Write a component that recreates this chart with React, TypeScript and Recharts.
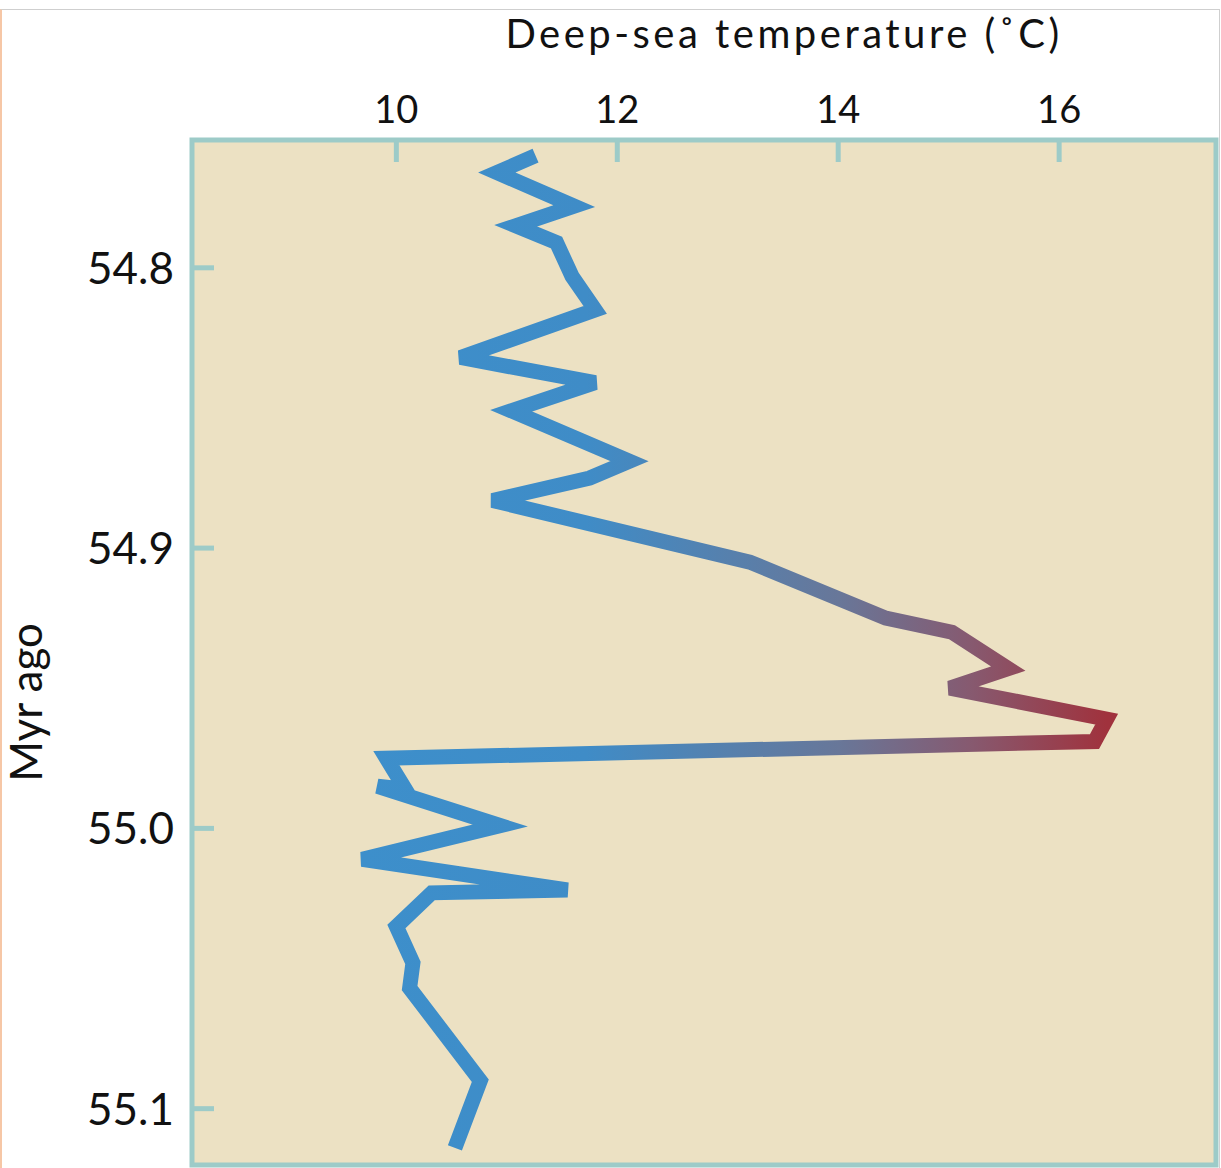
import { LineChart, Line, XAxis, YAxis, ReferenceArea, Label } from "recharts";

// Deep-sea temperature record across the PETM
const ageMyr = [
  54.760, 54.766, 54.778, 54.785, 54.791, 54.803, 54.815, 54.832, 54.841, 54.851,
  54.869, 54.875, 54.883, 54.905, 54.925, 54.930, 54.943, 54.950, 54.961, 54.969,
  54.975, 54.986, 54.985, 54.999, 55.011, 55.022, 55.023, 55.035, 55.048, 55.057,
  55.090, 55.114,
];
const tempC = [
  11.26, 10.91, 11.61, 11.08, 11.45, 11.59, 11.8, 10.58, 11.8, 11.04,
  12.11, 11.75, 10.87, 13.2, 14.43, 15.03, 15.54, 15.01, 16.43, 16.32,
  9.91, 10.08, 9.83, 10.94, 9.69, 11.55, 10.32, 10.0, 10.15, 10.12,
  10.76, 10.53,
];
const tempTicks = [10, 12, 14, 16];
const ageTicks = [54.8, 54.9, 55.0, 55.1];
const tempDomain = [8.15, 17.42];
const ageDomain = [54.7544, 55.1201];

const data = ageMyr.map((age, i) => ({ age, temp: tempC[i] }));

const FRAME = "#9dcbc8";
const PAPER = "#ece1c3";
const FONT = "Lato, 'Noto Sans', sans-serif";

function TempTick({ x, y, payload }: any) {
  return (
    <g>
      <line x1={x} y1={y} x2={x} y2={y + 22} stroke={FRAME} strokeWidth={5} />
      <text x={x} y={y - 17} textAnchor="middle" fontSize={38} fontFamily={FONT} fill="#111">
        {payload.value}
      </text>
    </g>
  );
}

function AgeTick({ x, y, payload }: any) {
  return (
    <g>
      <line x1={x} y1={y} x2={x + 22} y2={y} stroke={FRAME} strokeWidth={5} />
      <text x={x - 18} y={y} dy="0.36em" textAnchor="end" fontSize={44} fontFamily={FONT} fill="#111">
        {Number(payload.value).toFixed(1)}
      </text>
    </g>
  );
}

export default function App() {
  return (
    <div style={{ position: "absolute", left: 0, top: 0, width: 1221, height: 1168, background: "#fff", fontFamily: FONT }}>
      <div
        style={{
          position: "absolute",
          left: 0,
          top: 9,
          width: 1220,
          height: 1159,
          boxSizing: "border-box",
          borderTop: "1px solid #cfcfcf",
          borderRight: "1px solid #cfcfcf",
          borderLeft: "2px solid #f6c7a6",
        }}
      />
      <LineChart
        width={1221}
        height={1168}
        data={data}
        layout="vertical"
        margin={{ top: 0, right: 5, bottom: 3, left: 0 }}
        style={{ position: "absolute", left: 0, top: 0 }}
      >
        <defs>
          <linearGradient id="tempGrad" x1="0" y1="0" x2="1" y2="0">
            <stop offset="0" stopColor="#3d8fcb" />
            <stop offset="0.3" stopColor="#3f8cc7" />
            <stop offset="0.64" stopColor="#687799" />
            <stop offset="0.82" stopColor="#87596f" />
            <stop offset="1" stopColor="#a0323d" />
          </linearGradient>
        </defs>
        <ReferenceArea
          x1={tempDomain[0]}
          x2={tempDomain[1]}
          y1={ageDomain[0]}
          y2={ageDomain[1]}
          fill={PAPER}
          fillOpacity={1}
          stroke={FRAME}
          strokeWidth={5}
          ifOverflow="visible"
        />
        <XAxis
          type="number"
          dataKey="temp"
          orientation="top"
          domain={tempDomain}
          allowDataOverflow
          ticks={tempTicks}
          interval={0}
          height={140}
          axisLine={false}
          tickLine={false}
          tickSize={0}
          tickMargin={0}
          tick={<TempTick />}
        >
          <Label
            content={(props: any) => {
              const vb = props.viewBox;
              return (
                <text
                  x={vb.x + vb.width / 2 + 80}
                  y={vb.y + 48}
                  textAnchor="middle"
                  fontSize={40}
                  letterSpacing={3.5}
                  fontFamily={FONT}
                  fill="#111"
                >
                  Deep-sea temperature (˚C)
                </text>
              );
            }}
          />
        </XAxis>
        <YAxis
          type="number"
          dataKey="age"
          domain={ageDomain}
          allowDataOverflow
          ticks={ageTicks}
          interval={0}
          width={192}
          axisLine={false}
          tickLine={false}
          tickSize={0}
          tickMargin={0}
          tick={<AgeTick />}
        >
          <Label
            content={(props: any) => {
              const vb = props.viewBox;
              return (
                <text
                  transform={`translate(${vb.x + 42},${vb.y + vb.height / 2 + 50}) rotate(-90)`}
                  textAnchor="middle"
                  fontSize={44}
                  fontFamily={FONT}
                  fill="#111"
                >
                  Myr ago
                </text>
              );
            }}
          />
        </YAxis>
        <Line
          type="linear"
          dataKey="temp"
          stroke="url(#tempGrad)"
          strokeWidth={15}
          strokeLinejoin="miter"
          strokeMiterlimit={3.75}
          strokeLinecap="butt"
          dot={false}
          activeDot={false}
          isAnimationActive={false}
        />
      </LineChart>
    </div>
  );
}
